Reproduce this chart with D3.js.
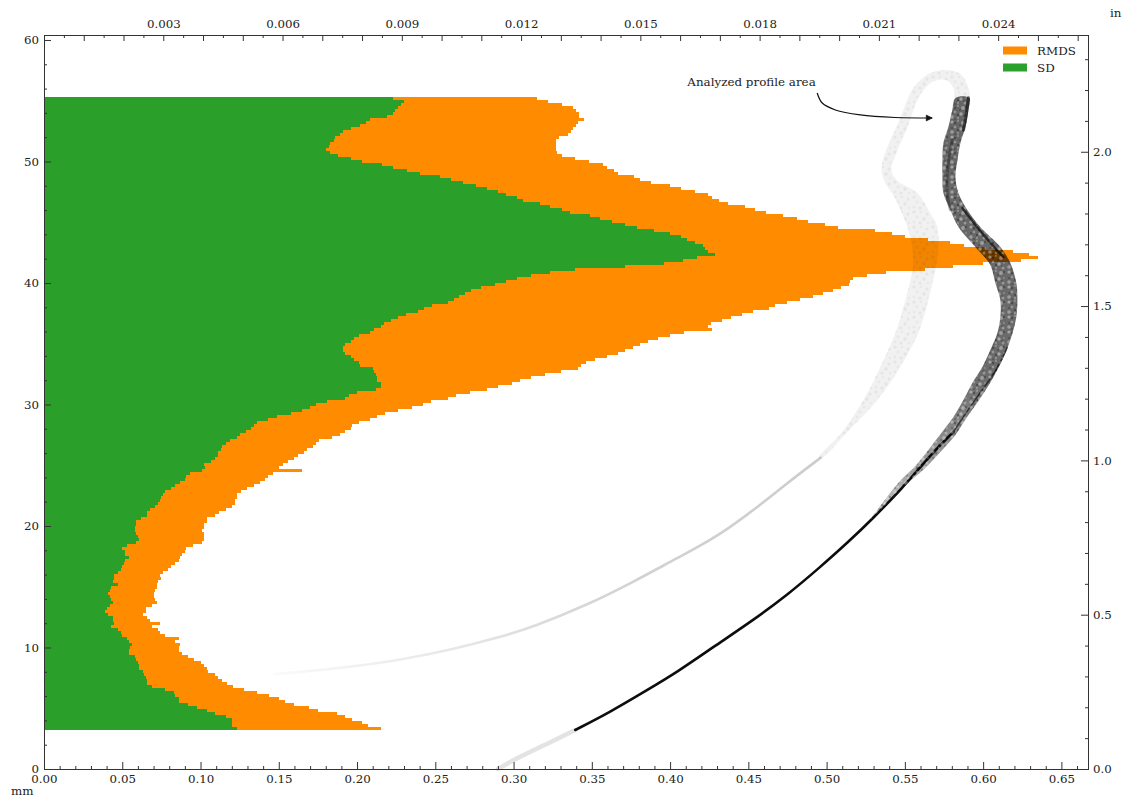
<!DOCTYPE html>
<html><head><meta charset="utf-8">
<script src="https://cdn.jsdelivr.net/npm/d3@7"></script>
<style>
html,body{margin:0;padding:0;background:#fff}
svg{display:block}
text{font-family:"DejaVu Serif",serif;font-size:11.9px;fill:#222}
.tick line,.spine{stroke:#333}
.tick text{font-family:"DejaVu Serif",serif;font-size:11.8px;fill:#222}
</style></head><body>
<svg id="c" width="1127" height="800"></svg>
<script>
// row thickness and first row of the horizontal bars (mm)
const firstRow = 3.33, rowStep = 0.247;
// bar lengths (mm), bottom row to top row
const rmdsValues = [
.215,.207,.203,.197,.192,.187,.175,.169,.160,.154,.150,.144,.136,.128,.121,.117,.114,.111,.109,.105,
.104,.102,.100,.096,.092,.088,.086,.086,.087,.084,.086,.077,.074,.073,.069,.074,.068,.066,.063,.065,
.065,.069,.072,.071,.070,.070,.071,.072,.072,.073,.075,.074,.076,.079,.081,.084,.086,.087,.088,.090,
.091,.095,.101,.102,.102,.102,.101,.102,.102,.104,.104,.109,.112,.116,.120,.122,.122,.123,.123,.126,
.130,.134,.138,.141,.143,.146,.165,.150,.153,.156,.160,.162,.166,.168,.172,.174,.176,.184,.189,.192,
.196,.197,.201,.208,.213,.218,.226,.235,.242,.247,.258,.263,.272,.283,.290,.299,.304,.311,.320,.330,
.341,.343,.346,.352,.360,.367,.371,.376,.381,.386,.392,.400,.409,.427,.424,.426,.433,.439,.446,.453,
.463,.467,.475,.483,.491,.498,.504,.509,.514,.515,.517,.526,.538,.563,.581,.600,.624,.635,.629,.619,
.601,.588,.579,.565,.550,.542,.531,.507,.499,.488,.481,.472,.461,.454,.448,.437,.431,.427,.424,.416,
.407,.400,.388,.381,.377,.367,.364,.360,.357,.348,.339,.331,.328,.327,.327,.327,.327,.329,.335,.337,
.338,.340,.341,.345,.342,.342,.340,.338,.331,.322,.315];
const sdValues = [
.123,.120,.120,.120,.116,.109,.104,.098,.092,.086,.086,.084,.083,.077,.069,.066,.066,.065,.064,.063,
.061,.061,.060,.059,.058,.054,.054,.055,.056,.054,.053,.050,.049,.047,.043,.045,.044,.044,.041,.039,
.040,.042,.044,.043,.042,.041,.042,.043,.047,.044,.045,.045,.047,.049,.050,.051,.052,.054,.052,.052,
.050,.053,.059,.061,.060,.059,.058,.058,.059,.059,.062,.066,.066,.068,.071,.073,.074,.075,.076,.077,
.081,.084,.087,.090,.091,.093,.101,.103,.102,.107,.109,.111,.111,.113,.114,.116,.119,.123,.125,.129,
.132,.134,.136,.143,.149,.158,.165,.170,.174,.181,.192,.195,.200,.212,.215,.215,.213,.213,.212,.211,
.210,.202,.201,.198,.196,.192,.191,.191,.192,.196,.198,.201,.208,.211,.215,.217,.222,.226,.231,.239,
.243,.248,.258,.262,.265,.269,.273,.279,.288,.295,.302,.311,.323,.339,.371,.396,.408,.417,.429,.424,
.422,.421,.416,.411,.407,.400,.390,.379,.371,.363,.355,.349,.336,.331,.323,.317,.306,.302,.295,.290,
.283,.276,.268,.260,.253,.240,.232,.223,.216,.203,.196,.188,.183,.180,.182,.183,.185,.186,.189,.191,
.196,.202,.206,.208,.219,.223,.224,.226,.228,.230,.223];
// profile, analysed part: thin lower line, then the two edges of the wide point cloud [mm, mm]
const analysedLine = [[.3394,3.21],[.3618,4.69],[.3854,6.50],[.4046,7.98],[.4276,10.04],[.4532,12.26],[.4749,14.32],[.4960,16.63],[.5132,18.60],[.5299,20.66],[.5490,23.21],[.5599,24.86],[.5708,26.42],[.5810,27.74]];
const analysedLineUpper = [[.5810,27.74],[.5963,30.70],[.6091,32.84],[.6155,34.73]];
const profileOuter = [[.5260,20.22],[.5490,23.21],[.5624,24.69],[.5727,26.09],[.5823,27.49],[.5893,28.89],[.5970,30.29],[.6040,31.69],[.6097,33.00],[.6148,34.40],[.6186,35.80],[.6212,37.20],[.6219,38.60],[.6212,40.00],[.6174,41.65],[.6110,42.96],[.5982,44.61],[.5899,46.01],[.5842,47.41],[.5823,48.72],[.5836,50.12],[.5855,51.52],[.5887,52.84],[.5906,54.24],[.5912,55.23]];
const profileInner = [[.5260,20.22],[.5452,23.46],[.5573,25.02],[.5650,26.26],[.5733,27.65],[.5810,28.97],[.5874,30.37],[.5931,31.77],[.5995,33.09],[.6046,34.49],[.6091,35.88],[.6110,37.20],[.6110,38.60],[.6078,40.00],[.6046,41.48],[.5950,42.96],[.5842,44.61],[.5791,46.01],[.5746,47.41],[.5740,48.72],[.5740,50.12],[.5746,51.52],[.5778,52.84],[.5803,54.24],[.5823,55.23]];
// darker strands inside the wide cloud
const strandLower = [[.6129,42.14],[.6046,43.29],[.5950,44.77],[.5867,46.17]];
const strandTop = [[.5906,55.23],[.5893,53.83],[.5874,52.59]];
const strandMiddle = [[.5803,51.77],[.5771,49.71],[.5765,47.24],[.5791,46.01]];
// profile outside the analysed part
const loopLeft = [[.5912,55.23],[.5899,56.30],[.5855,57.20],[.5759,57.53],[.5663,57.28],[.5586,56.54],[.5535,55.64],[.5490,54.24],[.5452,53.00],[.5407,51.77],[.5363,50.29],[.5350,49.30],[.5375,48.23],[.5426,47.24],[.5471,46.01],[.5516,44.61],[.5548,42.72],[.5548,41.07],[.5503,38.60],[.5439,35.88],[.5343,33.09],[.5235,30.37],[.5094,27.65],[.4947,25.60]];
const loopRight = [[.5823,55.23],[.5810,56.05],[.5759,56.71],[.5676,56.54],[.5612,55.72],[.5567,54.65],[.5529,53.25],[.5490,52.02],[.5446,50.70],[.5414,49.30],[.5446,48.48],[.5580,47.41],[.5650,46.01],[.5708,44.61],[.5714,42.72],[.5695,41.07],[.5650,38.60],[.5586,35.88],[.5471,33.09],[.5324,30.37],[.5126,27.65],[.4973,25.60]];
const tailLine = [[.4960,25.60],[.4749,23.54],[.4576,21.73],[.4301,19.09],[.4046,17.37],[.3765,15.39],[.3471,13.50],[.3125,11.69],[.2915,10.86],[.2595,9.79],[.2275,8.97],[.1956,8.40],[.1636,7.98],[.1476,7.82]];
const footLine = [[.2900,0],[.3010,.82],[.3200,1.98],[.3394,3.21]];
// labels and ticks
const seriesNames = ["RMDS","SD"];
const seriesColors = ["#ff8c00","#2ca02c"];
const mmXMajor = [0,.05,.10,.15,.20,.25,.30,.35,.40,.45,.50,.55,.60,.65];
const inXLabelled = [.003,.006,.009,.012,.015,.018,.021,.024];
const mmYMajor = [0,10,20,30,40,50,60];
const inYMajor = [0,.5,1,1.5,2];
const annotationText = "Analyzed profile area";
const annotationAnchor = [.411,56.2];
const arrowPath = [[.4940,55.64],[.4972,54.81],[.5056,54.24],[.5215,53.83],[.5439,53.62],[.5675,53.58]];

const svg = d3.select("#c");
const L=44,R=1088,T=35,B=769;
const xMax=.667, yMax=60.41;
const x = d3.scaleLinear([0,xMax],[L,R]);
const y = d3.scaleLinear([0,yMax],[B,T]);
const xIn = d3.scaleLinear([0,xMax/25.4],[L,R]);
const yIn = d3.scaleLinear([0,yMax/25.4],[B,T]);

const defs = svg.append("defs");
function blurFilter(id,s){defs.append("filter").attr("id",id).attr("filterUnits","userSpaceOnUse").attr("x",0).attr("y",0).attr("width",1127).attr("height",800).append("feGaussianBlur").attr("stdDeviation",s);}
blurFilter("barSoft",.35); blurFilter("soft",.55); blurFilter("softer",.7);
const darkGrad = defs.append("linearGradient").attr("id","darkFill").attr("gradientUnits","userSpaceOnUse").attr("x1",0).attr("x2",0).attr("y1",y(20)).attr("y2",y(55));
[[0,.2],[.2,.45],[.35,.58],[1,.6]].forEach(s=>darkGrad.append("stop").attr("offset",s[0]).attr("stop-color","#000").attr("stop-opacity",s[1]));
const tailGrad = defs.append("linearGradient").attr("id","tailFill").attr("gradientUnits","userSpaceOnUse").attr("x1",x(.148)).attr("x2",x(.50)).attr("y1",0).attr("y2",0);
[[0,.02],[.35,.1],[.6,.17],[1,.2]].forEach(s=>tailGrad.append("stop").attr("offset",s[0]).attr("stop-color","#000").attr("stop-opacity",s[1]));
// irregular mottling tiles for the point clouds: [cx, cy, r, opacity]
const moteWhite = [[2,2,1.6,.4],[8,1,1.1,.25],[13,3,1.9,.35],[5,7,1.3,.3],[11,9,1.7,.4],[16,8,1.1,.2],[2,12,1.8,.35],[8,13,1.2,.25],[15,13,1.5,.3]];
const moteBlack = [[5,3,1.2,.3],[10,5,1,.25],[16,2,1.1,.3],[2,8,1,.25],[8,10,1.2,.3],[14,11,1,.2],[5,14,.9,.25]];
const moteGrey = [[2,2,1.6,.05],[9,2,1.2,.035],[15,4,1.5,.05],[5,7,1.4,.04],[12,9,1.7,.05],[2,12,1.3,.035],[8,13,1.5,.05],[16,13,1.2,.035]];
const tile = (id,list,col)=>{const p=defs.append("pattern").attr("id",id).attr("patternUnits","userSpaceOnUse").attr("width",19).attr("height",15);
  list.forEach(m=>p.append("circle").attr("cx",m[0]).attr("cy",m[1]).attr("r",m[2]).attr("fill",col).attr("fill-opacity",m[3]));};
tile("moteWhite",moteWhite,"#fff"); tile("moteBlack",moteBlack,"#000"); tile("moteGrey",moteGrey,"#000");

// bars
const rows = rmdsValues.map((v,i)=>({h:firstRow+rowStep*i,rmds:v,sd:sdValues[i]}));
const barG = svg.append("g").attr("shape-rendering","crispEdges").attr("filter","url(#barSoft)");
[["rmds",seriesColors[0]],["sd",seriesColors[1]]].forEach(([k,c])=>{
  barG.append("g").selectAll("rect").data(rows).join("rect")
    .attr("x",x(0))
    .attr("y",d=>y(d.h+rowStep/2))
    .attr("width",d=>x(d[k])-x(0))
    .attr("height",d=>y(d.h-rowStep/2)-y(d.h+rowStep/2))
    .attr("fill",c);
});

// profile
const smooth = d3.line().x(d=>x(d[0])).y(d=>y(d[1])).curve(d3.curveCatmullRom.alpha(.5));
const basis = d3.line().x(d=>x(d[0])).y(d=>y(d[1])).curve(d3.curveBasis);
const ring = d3.line().x(d=>x(d[0])).y(d=>y(d[1])).curve(d3.curveCatmullRomClosed.alpha(.5));
const strand = (g,pts,w,o,c)=>g.append("path").attr("d",basis(pts)).attr("fill","none").attr("stroke",c||"#000").attr("stroke-opacity",o).attr("stroke-width",w).attr("stroke-linecap","round");
const cloud = svg.append("g").attr("filter","url(#soft)");
strand(cloud,footLine,4.5,.11);
strand(cloud,tailLine,2.6,1,"url(#tailFill)");
const loopShape = ring([...loopLeft,...loopRight.slice().reverse()]);
const wide = svg.append("g").attr("filter","url(#softer)");
wide.append("path").attr("d",loopShape).attr("fill","#000").attr("fill-opacity",.055);
wide.append("path").attr("d",loopShape).attr("fill","url(#moteGrey)");
const bandShape = ring([...profileOuter,...profileInner.slice().reverse()]);
wide.append("path").attr("d",bandShape).attr("fill","url(#darkFill)");
wide.append("path").attr("d",bandShape).attr("fill","url(#moteBlack)");
wide.append("path").attr("d",bandShape).attr("fill","url(#moteWhite)");
strand(wide,strandLower,2.4,.6);
strand(wide,strandTop,3.2,.55);
strand(wide,strandMiddle,3,.3);
strand(cloud,analysedLine,2.6,.95);
strand(cloud,analysedLineUpper,1.5,.6);

// annotation
svg.append("text").attr("x",x(annotationAnchor[0])).attr("y",y(annotationAnchor[1])).text(annotationText);
svg.append("path").attr("d",smooth(arrowPath)).attr("fill","none").attr("stroke","#111").attr("stroke-width",1.2);
const tip = arrowPath[arrowPath.length-1];
svg.append("path").attr("d",`M${x(tip[0])-6},${y(tip[1])-3}L${x(tip[0])},${y(tip[1])}L${x(tip[0])-6},${y(tip[1])+3}Z`).attr("fill","#111").attr("stroke","#111").attr("stroke-width",.6);

// axes
function place(axis,tx,ty){const g=svg.append("g").attr("transform",`translate(${tx},${ty})`).call(axis);g.select(".domain").remove();g.selectAll("text").attr("fill",null);g.selectAll("line").attr("stroke",null);return g;}
const fmtBlank = ()=>"";
const xMinor = d3.range(0,.67,.01).map(d=>+d.toFixed(2)).filter(d=>!mmXMajor.includes(d));
place(d3.axisBottom(x).tickValues(xMinor).tickSize(-3).tickFormat(fmtBlank),0,B);
place(d3.axisBottom(x).tickValues(mmXMajor).tickSize(-7).tickPadding(6).tickFormat(d3.format(".2f")),0,B);
const topEvery = d3.range(.001,.0262,.001).map(d=>+d.toFixed(3));
const topHalf = d3.range(.0005,.0262,.001).map(d=>+d.toFixed(4));
place(d3.axisTop(xIn).tickValues(topHalf).tickSize(-3).tickFormat(fmtBlank),0,T);
place(d3.axisTop(xIn).tickValues(topEvery).tickSize(-6).tickPadding(7).tickFormat(d=>inXLabelled.includes(d)?d3.format(".3f")(d):""),0,T);
const yMinor = d3.range(0,60.1,2).filter(d=>!mmYMajor.includes(d));
place(d3.axisLeft(y).tickValues(yMinor).tickSize(-3).tickFormat(fmtBlank),L,0);
place(d3.axisLeft(y).tickValues(mmYMajor).tickSize(-7).tickPadding(5).tickFormat(d3.format("d")),L,0);
const yInMinor = d3.range(0,2.38,.1).map(d=>+d.toFixed(1)).filter(d=>!inYMajor.includes(d));
place(d3.axisRight(yIn).tickValues(yInMinor).tickSize(-3).tickFormat(fmtBlank),R,0);
place(d3.axisRight(yIn).tickValues(inYMajor).tickSize(-7).tickPadding(5).tickFormat(d3.format(".1f")),R,0);
svg.append("rect").attr("class","spine").attr("x",L+.5).attr("y",T+.5).attr("width",R-L).attr("height",B-T).attr("fill","none");

// axis units
svg.append("text").attr("x",11).attr("y",795).text("mm");
svg.append("text").attr("x",1110).attr("y",17).text("in");

// legend
seriesNames.forEach((n,i)=>{
  const cy = 50.5+17*i;
  svg.append("rect").attr("x",1003).attr("y",cy-4).attr("width",24).attr("height",8).attr("fill",seriesColors[i]);
  svg.append("text").attr("x",1037).attr("y",cy+4).text(n);
});
</script>
</body></html>
